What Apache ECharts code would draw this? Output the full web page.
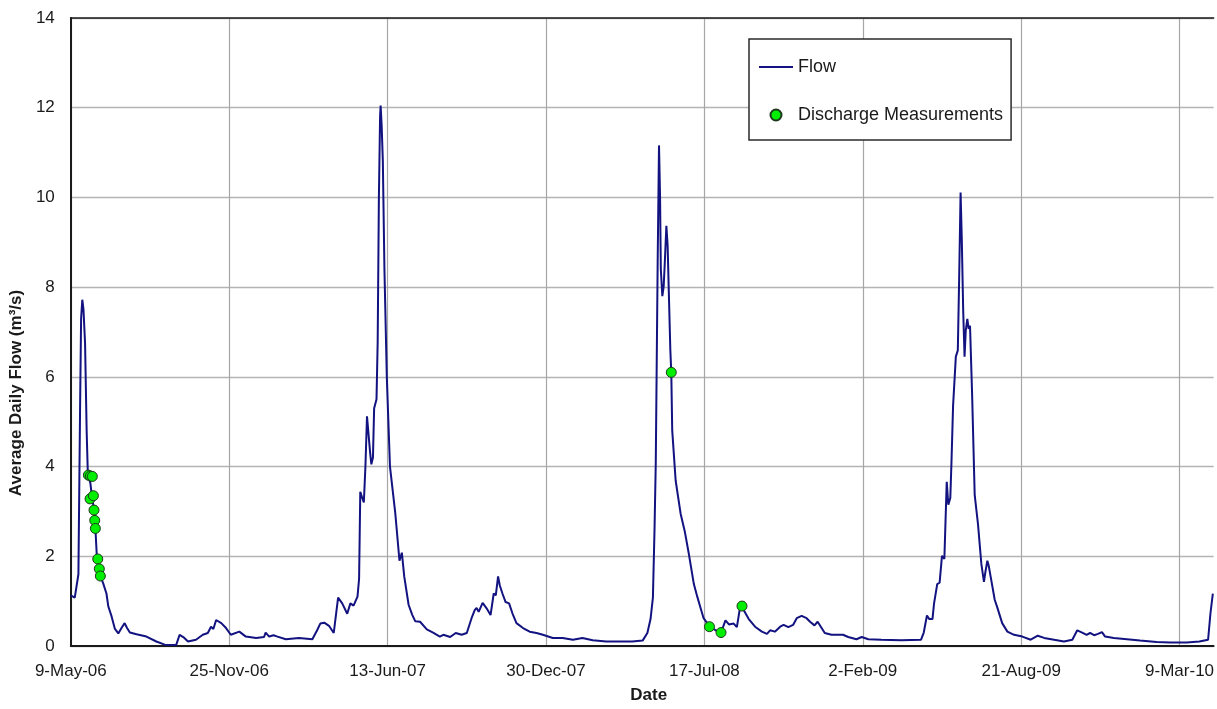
<!DOCTYPE html>
<html>
<head>
<meta charset="utf-8">
<script src="https://cdn.jsdelivr.net/npm/echarts@6/dist/echarts.min.js"></script>
<style>
html,body{margin:0;padding:0;background:#fff;}
#chart{width:1217px;height:709px;}
</style>
</head>
<body>
<div id="chart"></div>
<script>
// Days since 9-May-06 and average daily flow (m3/s)
const xTickLabels = ['9-May-06','25-Nov-06','13-Jun-07','30-Dec-07','17-Jul-08','2-Feb-09','21-Aug-09','9-Mar-10'];
const xStepDays = 200;
const xMaxDays = 1443;
const yTicks = [0,2,4,6,8,10,12,14];

const flowDays = [
  0,1.3,5,7.5,9.6,11.7,13,14.5,16,18,20,21.4,22.2,24.7,26.4,29,31,32.7,35.3,38.6,41,
  45,47.4,51.5,55.7,60,64,68,71,74.6,83,95.5,108,118.5,133,137.4,142,148,158,166.7,
  173,177,180,183.5,190,196,202,212.8,221,234,244,246,250.5,256,261,271.5,288,305,
  311,315,320,326,332,337.5,342.7,349,353,357,362,364,365.5,368,370,372,374,376,378,
  379.5,381.5,383,386,387.5,389,390.5,391.2,392.5,394,396,399,403,405.5,409.7,415,418,
  421,426.5,431,435,441,449.5,458,466,470.4,479,486,493.5,500,506,510,512.4,515,520,
  525,530,534,536.6,539.5,541.7,545,549,553.4,557.6,562.7,571,579.4,588,596,608.6,621,
  634,646,659,676,692.5,709,722,728,732,735,737,738.6,739.8,741,742.7,744,745,746.9,
  748.6,750,752,753.6,755,757,758.2,759.4,763.7,765.8,770,775.4,780.4,786.7,791,795,
  799,806,814,821,826.6,831,837,841,845.3,849.6,856,864,872.6,879,883,889,895.7,900,
  906,912,916.6,922.8,929,933.4,939,943,947,952,960.6,975,981.6,992,998.6,1007,1023.4,
  1048.5,1073.6,1077,1081,1084,1088,1090,1094,1097,1100,1103,1106,1108,1110.5,1112,
  1114,1116,1117.5,1120,1121.7,1123.5,1125,1126.8,1128.5,1130,1132,1133.7,1135.4,1138,
  1141.3,1145.5,1149.7,1153,1154.8,1157.3,1159,1161.5,1166.6,1170,1176,1182.6,1191,
  1201.5,1212,1221,1229,1241.5,1254,1264.6,1270.8,1277,1282.6,1287,1292,1297,1302,1306,
  1317,1333.5,1350,1371,1388,1409,1425,1436,1439,1442
];
const flowValues = [
  1.13,1.13,1.08,1.06,1.6,5.3,7.3,7.72,7.5,6.75,4.8,3.9,3.89,3.63,3.37,3.08,2.64,2.05,1.76,1.5,1.39,
  1.17,0.88,0.66,0.38,0.28,0.4,0.51,0.4,0.3,0.26,0.21,0.1,0.03,0.02,0.25,0.2,0.1,0.14,0.25,
  0.29,0.43,0.38,0.58,0.51,0.4,0.25,0.32,0.21,0.18,0.2,0.3,0.21,0.24,0.21,0.15,0.18,0.15,
  0.35,0.5,0.52,0.45,0.29,1.08,0.95,0.72,0.95,0.9,1.1,1.5,3.44,3.3,3.2,4.0,5.12,5.1,4.3,
  4.05,4.2,5.3,5.5,6.8,10.0,11.8,12.05,11.6,10.8,8.4,6.0,4.0,4.04,2.96,1.9,2.08,
  1.55,0.92,0.7,0.55,0.54,0.37,0.29,0.21,0.25,0.2,0.29,0.25,0.29,0.62,0.8,0.85,0.76,0.96,
  0.84,0.69,1.17,1.13,1.55,1.35,1.17,0.98,0.95,0.73,0.51,0.4,0.32,0.29,0.25,0.18,0.18,
  0.14,0.18,0.13,0.1,0.1,0.1,0.12,0.29,0.6,1.08,2.57,4.07,6.3,8.54,11.16,10.04,8.4,7.8,
  8.02,8.54,9.37,8.92,7.95,6.6,6.1,4.8,3.69,3.73,2.95,2.54,2.05,1.38,1.1,0.86,
  0.62,0.45,0.35,0.3,0.57,0.48,0.5,0.42,0.89,0.8,0.6,0.43,0.32,0.27,0.35,0.32,0.43,0.47,
  0.42,0.47,0.62,0.67,0.62,0.54,0.46,0.54,0.43,0.29,0.25,0.25,0.2,0.15,0.2,0.15,0.14,
  0.13,0.14,0.3,0.68,0.6,0.6,0.95,1.38,1.41,2.01,1.94,3.66,3.15,3.3,4.1,
  5.35,5.35,6.45,6.59,8.2,10.11,9.08,7.47,6.45,7.03,7.29,7.07,7.14,5.64,
  3.37,2.71,1.83,1.43,1.65,1.9,1.79,1.54,1.03,0.85,0.51,0.32,0.25,
  0.21,0.14,0.23,0.18,0.14,0.1,0.14,0.35,0.3,0.25,0.29,0.24,0.27,0.31,0.21,
  0.18,0.15,0.12,0.09,0.08,0.08,0.1,0.14,0.73,1.17
];

const measDays   = [22.2,24.7,27.2,24.3,28.5,29.3,30.2,31,34,36,37.3,758.2,806.4,821,847.5];
const measValues = [3.81,3.79,3.78,3.28,3.35,3.03,2.8,2.62,1.94,1.72,1.56,6.1,0.43,0.3,0.89];

const flowData = flowDays.map((d, i) => [d, flowValues[i]]);
const measData = measDays.map((d, i) => [d, measValues[i]]);

const FONT = '"Liberation Sans", Arial, sans-serif';
const LINE_COLOR = '#121280';
const chart = echarts.init(document.getElementById('chart'), null, {renderer: 'canvas'});
chart.setOption({
  animation: false,
  backgroundColor: '#ffffff',
  grid: {left: 69, right: 0, top: 18, bottom: 56, containLabel: false},
  legend: {
    orient: 'vertical',
    left: 749, top: 39,
    padding: [19, 8, 16, 10],
    itemGap: 30,
    itemWidth: 34, itemHeight: 11,
    backgroundColor: '#ffffff',
    borderColor: '#2a2a2a', borderWidth: 1.5,
    textStyle: {fontSize: 18, color: '#1a1a1a', fontFamily: FONT},
    data: [
      {name: 'Flow', icon: 'path://M0,0H34V2H0Z', itemStyle: {color: LINE_COLOR}},
      {name: 'Discharge Measurements', icon: 'circle'}
    ]
  },
  xAxis: [{
    type: 'value',
    min: 0, max: xMaxDays, interval: xStepDays,
    name: 'Date', nameLocation: 'middle', nameGap: 41,
    nameTextStyle: {fontSize: 17, fontWeight: 'bold', color: '#1a1a1a', fontFamily: FONT, padding: [0, 0, 0, 13]},
    axisLine: {show: true, lineStyle: {color: '#1a1a1a', width: 2}},
    axisTick: {show: false},
    axisLabel: {
      fontSize: 17, color: '#1a1a1a', fontFamily: FONT, margin: 17,
      showMaxLabel: false,
      formatter: v => (v % xStepDays === 0 ? (xTickLabels[v / xStepDays] || '') : '')
    },
    splitLine: {show: true, showMaxLine: false, lineStyle: {color: '#a6a6a6', width: 1.2}}
  }, {
    type: 'value', position: 'top',
    min: 0, max: xMaxDays, interval: xStepDays,
    axisLine: {show: true, lineStyle: {color: '#1a1a1a', width: 1.6}},
    axisTick: {show: false}, axisLabel: {show: false}, splitLine: {show: false}
  }],
  yAxis: {
    type: 'value',
    min: yTicks[0], max: yTicks[yTicks.length - 1], interval: yTicks[1] - yTicks[0],
    name: 'Average Daily Flow (m³/s)', nameLocation: 'middle', nameGap: 39, nameRotate: 90,
    nameTextStyle: {fontSize: 17, fontWeight: 'bold', color: '#1a1a1a', fontFamily: FONT, padding: [0, 122, 0, 0]},
    axisLine: {show: true, lineStyle: {color: '#1a1a1a', width: 2}},
    axisTick: {show: false},
    axisLabel: {fontSize: 17, color: '#1a1a1a', fontFamily: FONT, margin: 16},
    splitLine: {show: true, lineStyle: {color: '#b4b4b4', width: 1.4}}
  },
  series: [{
    name: 'Flow',
    type: 'line',
    data: flowData,
    symbol: 'none',
    lineStyle: {color: LINE_COLOR, width: 2},
    itemStyle: {color: LINE_COLOR},
    z: 2
  }, {
    name: 'Discharge Measurements',
    type: 'scatter',
    data: measData,
    symbol: 'circle',
    symbolSize: 10,
    itemStyle: {color: '#00ee00', borderColor: '#1e3a1e', borderWidth: 1, opacity: 1},
    z: 3
  }]
});
</script>
</body>
</html>
